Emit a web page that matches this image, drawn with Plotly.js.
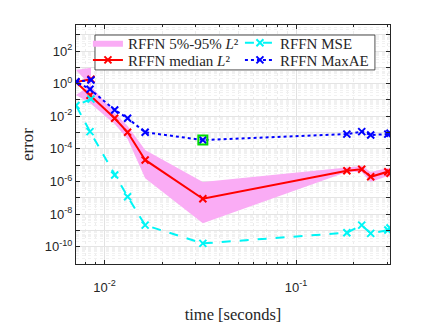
<!DOCTYPE html>
<html>
<head>
<meta charset="utf-8">
<script src="https://cdn.plot.ly/plotly-3.0.1.min.js"></script>
<style>
  html, body { margin: 0; padding: 0; background: #fff; }
  #plot { width: 432px; height: 324px; }
</style>
</head>
<body>
<div id="plot"></div>
<script>
// run times (s), in the order the runs were made (not sorted)
let times = [0.0085, 0.0071, 0.0084, 0.0113, 0.0132, 0.0163, 0.0326, 0.184, 0.220, 0.245, 0.301, 0.309];

// errors
let medianL2 = [1.86, 1.26, 0.195, 7.6e-3, 1.05e-3, 2.1e-5, 8.7e-8, 4.6e-6, 5.6e-6, 1.95e-6, 4.0e-6, 3.2e-6];
let upperL2  = [9.5, 6.9, 0.83, 1.6e-2, 2.5e-3, 8.5e-5, 9.3e-7, 7.8e-6, 8.9e-6, 3.8e-6, 6.8e-6, 5.9e-6];
let lowerL2  = [0.83, 0.2, 0.066, 3.4e-3, 4.1e-4, 1.6e-6, 2.75e-9, 3.8e-6, 3.8e-6, 9.3e-7, 2.2e-6, 1.9e-6];
let mse      = [0.115, 0.046, 1.15e-3, 2.5e-6, 1.17e-7, 2.1e-9, 1.6e-10, 7.2e-10, 2.1e-9, 6.6e-10, 1.05e-9, 1.4e-9];
let maxAE    = [1.7, 1.32, 0.46, 2.45e-2, 7.6e-3, 1.05e-3, 3.5e-4, 8.1e-4, 1.15e-3, 7.1e-4, 8.1e-4, 9.1e-4];

// run picked out with a green square
let bestIdx = 6;

let band = {
    x: times.concat(times.slice().reverse()),
    y: upperL2.concat(lowerL2.slice().reverse()),
    fill: 'toself',
    fillcolor: 'rgb(250,172,245)',
    line: {width: 0},
    mode: 'lines',
    name: 'RFFN 5%-95% <i>L</i>²',
    legend: 'legend',
    hoverinfo: 'skip'
};

let medTrace = {
    x: times, y: medianL2,
    mode: 'lines+markers',
    line: {color: 'rgb(255,0,0)', width: 2},
    marker: {symbol: 'x-thin-open', size: 7, color: 'rgb(255,0,0)', line: {color: 'rgb(255,0,0)', width: 2}},
    name: 'RFFN median <i>L</i>²',
    legend: 'legend2'
};

let mseTrace = {
    x: times, y: mse,
    mode: 'lines+markers',
    line: {color: 'rgb(0,245,245)', width: 2, dash: 'dash'},
    marker: {symbol: 'x-thin-open', size: 7, color: 'rgb(0,245,245)', line: {color: 'rgb(0,245,245)', width: 2}},
    name: 'RFFN MSE',
    legend: 'legend'
};

let maxTrace = {
    x: times, y: maxAE,
    mode: 'lines+markers',
    line: {color: 'rgb(0,0,255)', width: 2, dash: 'dot'},
    marker: {symbol: 'x-thin-open', size: 7, color: 'rgb(0,0,255)', line: {color: 'rgb(0,0,255)', width: 2}},
    name: 'RFFN MaxAE',
    legend: 'legend2'
};

let bestTrace = {
    x: [times[bestIdx]], y: [maxAE[bestIdx]],
    mode: 'markers',
    marker: {symbol: 'square-open', size: 9, color: 'rgb(0,220,0)', line: {color: 'rgb(0,220,0)', width: 2}},
    showlegend: false
};

// grid values for the log axes
function minorVals(lo, hi) {
    let v = [];
    for (let d = lo; d <= hi; d++) {
        for (let k = 2; k <= 9; k++) v.push(k * Math.pow(10, d));
    }
    return v;
}
let yDecades = [];
let yText = [];
for (let d = -11; d <= 3; d++) {
    yDecades.push(Math.pow(10, d));
    yText.push(d % 2 === 0 ? '10<sup>' + d + '</sup>' : '');
}

let tickFont = {family: 'Liberation Sans, Arial, sans-serif', size: 13, color: '#262626'};
let serif = 'Liberation Serif, serif';
let legFont = {family: serif, size: 15, color: '#262626'};

// one legend per row, both inside a single box
let legendRow = (y) => ({
    x: 0.038, y: y, xanchor: 'left', yanchor: 'middle',
    orientation: 'h',
    entrywidth: 107,
    bgcolor: 'rgba(0,0,0,0)',
    borderwidth: 0,
    font: legFont,
    itemwidth: 30
});

let layout = {
    width: 432, height: 324,
    margin: {l: 76, r: 42, t: 25, b: 60},
    paper_bgcolor: 'white',
    plot_bgcolor: 'white',
    showlegend: true,
    legend: legendRow(0.925),
    legend2: legendRow(0.853),
    shapes: [{
        type: 'rect', xref: 'paper', yref: 'paper',
        x0: 0.0605, x1: 0.952, y0: 0.812, y1: 0.958,
        fillcolor: 'white', line: {color: '#262626', width: 0.8},
        layer: 'above'
    }],
    xaxis: {
        type: 'log',
        range: [Math.log10(Math.min(...times)), Math.log10(Math.max(...times))],
        tickmode: 'array',
        tickvals: [0.01, 0.1],
        ticktext: ['10<sup>-2</sup>', '10<sup>-1</sup>'],
        tickfont: tickFont,
        ticklabelstandoff: 11,
        ticks: 'inside', ticklen: 4, tickcolor: '#262626',
        showline: true, linecolor: '#262626', linewidth: 1, mirror: 'ticks',
        showgrid: true, gridcolor: '#e2e2e2', gridwidth: 1,
        minor: {tickmode: 'array', tickvals: minorVals(-3, -1), showgrid: true,
                gridcolor: '#ececec', griddash: 'dot', ticks: 'inside', ticklen: 2, tickcolor: '#262626'},
        zeroline: false,
        title: {text: 'time [seconds]', font: {family: serif, size: 16.5, color: '#262626'}, standoff: 15}
    },
    yaxis: {
        type: 'log',
        range: [-11.06, 3.6],
        tickmode: 'array',
        tickvals: yDecades,
        ticktext: yText,
        tickfont: tickFont,
        ticks: 'inside', ticklen: 4, tickcolor: '#262626',
        showline: true, linecolor: '#262626', linewidth: 1, mirror: 'ticks',
        showgrid: true, gridcolor: '#e4e4e4', gridwidth: 1,
        minor: {tickmode: 'array', tickvals: minorVals(-12, 3), showgrid: true,
                gridcolor: '#f1f1f1', griddash: 'dot', ticks: '', ticklen: 2},
        zeroline: false,
        title: {text: 'error', font: {family: serif, size: 17, color: '#262626'}, standoff: 6}
    }
};

Plotly.newPlot('plot', [band, medTrace, mseTrace, maxTrace, bestTrace], layout, {staticPlot: true, displayModeBar: false});
</script>
</body>
</html>
